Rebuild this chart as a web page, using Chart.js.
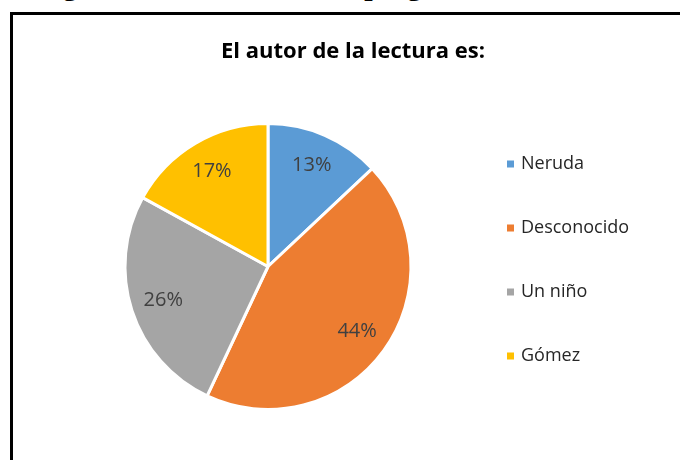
<!DOCTYPE html>
<html>
<head>
<meta charset="utf-8">
<script src="https://cdn.jsdelivr.net/npm/chart.js@4/dist/chart.umd.min.js"></script>
<style>
  html, body { margin: 0; padding: 0; background: #fff; }
  body { width: 680px; height: 460px; overflow: hidden; position: relative; }
  .caption {
    position: absolute; left: 36px; top: -30px;
    font: bold 30px/30px "Liberation Serif", "Times New Roman", serif;
    color: #000; white-space: nowrap;
  }
  .box {
    position: absolute; left: 10px; top: 12px;
    width: 700px; height: 480px;
    border-left: 3px solid #000; border-top: 3px solid #000;
  }
  .box canvas { position: absolute; left: 0; top: 0; }
</style>
</head>
<body>
<div class="caption">Figura 3. Resultado de la pregunta 3</div>
<div class="box"><canvas id="pie" width="680" height="470"></canvas></div>
<script>
const chartTitle = "El autor de la lectura es:";
const categories = ["Neruda", "Desconocido", "Un niño", "Gómez"];
const percentValues = [13, 44, 26, 17];
const sliceColors = ["#5B9BD5", "#ED7D31", "#A5A5A5", "#FFC000"];

const FONT = "'Open Sans', Lato, sans-serif";

// title centred over the whole chart box (not just the pie area)
const boxTitle = {
  id: "boxTitle",
  afterDraw(chart) {
    const ctx = chart.ctx;
    ctx.save();
    ctx.font = "bold 22px " + FONT;
    ctx.fillStyle = "#000";
    ctx.textAlign = "center";
    ctx.textBaseline = "middle";
    ctx.fillText(chartTitle, chart.width / 2, 37);
    ctx.restore();
  }
};

// percentage labels inside each slice
const sliceLabels = {
  id: "sliceLabels",
  afterDatasetsDraw(chart) {
    const ctx = chart.ctx;
    const arcs = chart.getDatasetMeta(0).data;
    ctx.save();
    ctx.font = "20px " + FONT;
    ctx.fillStyle = "#404040";
    ctx.textAlign = "center";
    ctx.textBaseline = "middle";
    arcs.forEach((arc, i) => {
      const mid = (arc.startAngle + arc.endAngle) / 2;
      const r = arc.outerRadius * 0.77;
      ctx.fillText(percentValues[i] + "%", arc.x + Math.cos(mid) * r, arc.y + Math.sin(mid) * r);
    });
    ctx.restore();
  }
};

// legend on the right, Office style
const sideLegend = {
  id: "sideLegend",
  afterDraw(chart) {
    const ctx = chart.ctx;
    const x0 = 494, y0 = 149, step = 64;
    ctx.save();
    ctx.font = "18px " + FONT;
    ctx.textBaseline = "middle";
    categories.forEach((name, i) => {
      const y = y0 + i * step;
      ctx.fillStyle = sliceColors[i];
      ctx.fillRect(x0, y - 3.5, 7, 7);
      ctx.fillStyle = "#262626";
      ctx.fillText(name, x0 + 14, y);
    });
    ctx.restore();
  }
};

new Chart(document.getElementById("pie"), {
  type: "pie",
  data: {
    labels: categories,
    datasets: [{
      data: percentValues,
      backgroundColor: sliceColors,
      borderColor: "#ffffff",
      borderWidth: 3
    }]
  },
  options: {
    responsive: false,
    animation: false,
    radius: 143,
    layout: { padding: { left: 0, right: 170, top: 48, bottom: 15 } },
    plugins: {
      legend: { display: false },
      tooltip: { enabled: false },
      title: { display: false }
    }
  },
  plugins: [sliceLabels, sideLegend, boxTitle]
});
</script>
</body>
</html>
